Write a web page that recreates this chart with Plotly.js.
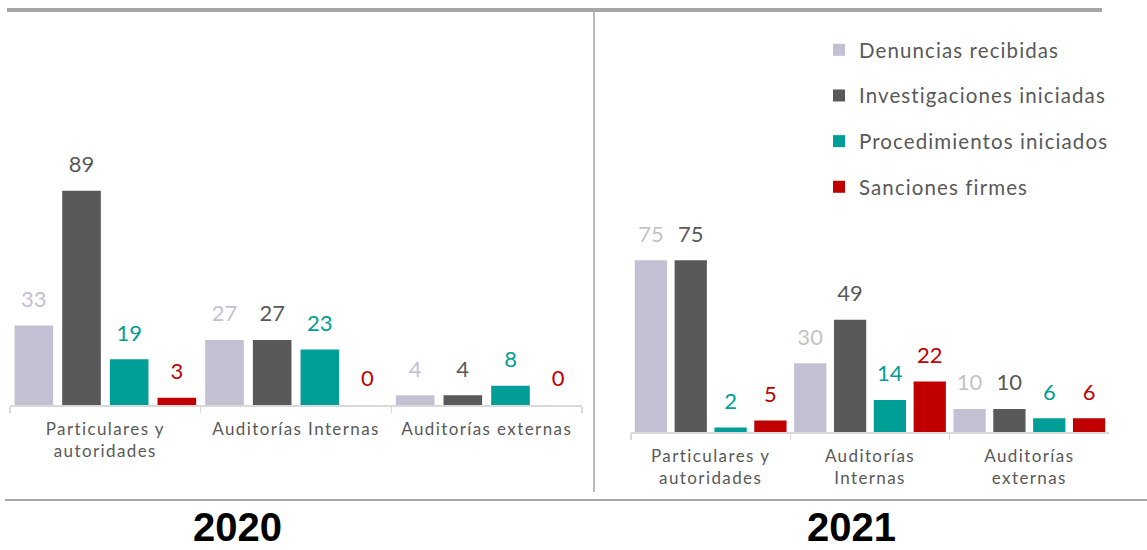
<!DOCTYPE html>
<html>
<head>
<meta charset="utf-8">
<script src="https://cdn.plot.ly/plotly-3.0.1.min.js"></script>
<style>
  html, body { margin: 0; padding: 0; background: #fff; }
  #chart { width: 1147px; height: 550px; }
  #chart .legendtext { letter-spacing: 1.1px; }
  #chart .legend .scrollbox { clip-path: none !important; }
  #chart .xaxislayer-above text { letter-spacing: 1.4px; }
</style>
</head>
<body>
<div id="chart"></div>
<script>
// ---- Data ----
const seriesNames = ['Denuncias recibidas', 'Investigaciones iniciadas', 'Procedimientos iniciados', 'Sanciones firmes'];
const categories2020 = ['Particulares y<br>autoridades', 'Auditorías Internas', 'Auditorías externas'];
const categories2021 = ['Particulares y<br>autoridades', 'Auditorías<br>Internas', 'Auditorías<br>externas'];

const denuncias2020 = [33, 27, 4];
const investigaciones2020 = [89, 27, 4];
const procedimientos2020 = [19, 23, 8];
const sanciones2020 = [3, 0, 0];

const denuncias2021 = [75, 30, 10];
const investigaciones2021 = [75, 49, 10];
const procedimientos2021 = [2, 14, 6];
const sanciones2021 = [5, 22, 6];

const yearLabels = ['2020', '2021'];

// ---- Styles ----
const barColors = ['#c4c0d4', '#595959', '#009e96', '#c00000'];
const labelColors2020 = ['#c4c0d4', '#595959', '#009e96', '#c00000'];
const labelColors2021 = ['#c3c3c3', '#595959', '#009e96', '#c00000'];
const FONT = 'Lato, "Open Sans", sans-serif';
const W = 1147, H = 550;

const tmpl = '<span style="font-size:22px">%{y}</span><br><span style="font-size:10px">\u00a0</span>';

function makeTraces(cats, seriesVals, labelColors, xa, ya, showLegend) {
  return seriesVals.map((vals, i) => ({
    type: 'bar',
    x: cats,
    y: vals,
    name: seriesNames[i],
    legendgroup: 'g' + i,
    showlegend: showLegend,
    xaxis: xa,
    yaxis: ya,
    marker: { color: barColors[i] },
    texttemplate: tmpl,
    textposition: 'outside',
    constraintext: 'none',
    cliponaxis: false,
    textfont: { family: FONT, size: 10.5, color: labelColors[i] },
    hoverinfo: 'x+y+name'
  }));
}

const traces = [
  ...makeTraces(categories2020, [denuncias2020, investigaciones2020, procedimientos2020, sanciones2020], labelColors2020, 'x', 'y', true),
  ...makeTraces(categories2021, [denuncias2021, investigaciones2021, procedimientos2021, sanciones2021], labelColors2021, 'x2', 'y2', false)
];

const xAxisCommon = {
  type: 'category',
  showline: true,
  linecolor: '#d9d9d9',
  linewidth: 1.5,
  ticks: 'outside',
  tickson: 'boundaries',
  ticklen: 6,
  tickwidth: 1.5,
  tickcolor: '#d9d9d9',
  showgrid: false,
  zeroline: false,
  tickfont: { family: FONT, size: 17, color: '#595959' },
  fixedrange: true
};

const layout = {
  width: W,
  height: H,
  margin: { l: 0, r: 0, t: 0, b: 0 },
  paper_bgcolor: '#ffffff',
  plot_bgcolor: 'rgba(0,0,0,0)',
  barmode: 'group',
  bargap: 0,
  bargroupgap: 0.19,
  showlegend: true,
  legend: {
    x: 819 / W, xanchor: 'left',
    y: 1 - 30 / H, yanchor: 'top',
    font: { family: FONT, size: 20.5, color: '#595959' },
    tracegroupgap: 16,
    bgcolor: 'rgba(0,0,0,0)'
  },
  xaxis: Object.assign({}, xAxisCommon, {
    domain: [10 / W, 582 / W], anchor: 'y', ticklabelstandoff: 8
  }),
  yaxis: {
    domain: [1 - 405 / H, 1 - 164.2 / H], range: [0, 100],
    visible: false, showgrid: false, zeroline: false, fixedrange: true
  },
  xaxis2: Object.assign({}, xAxisCommon, {
    domain: [631 / W, 1109 / W], anchor: 'y2', ticklabelstandoff: 8
  }),
  yaxis2: {
    domain: [1 - 432 / H, 1 - 203 / H], range: [0, 100],
    visible: false, showgrid: false, zeroline: false, fixedrange: true
  },
  shapes: [
    { type: 'line', xref: 'paper', yref: 'paper', x0: 7 / W, x1: 1102 / W, y0: 1 - 10 / H, y1: 1 - 10 / H,
      line: { color: '#a6a6a6', width: 4 } },
    { type: 'line', xref: 'paper', yref: 'paper', x0: 594 / W, x1: 594 / W, y0: 1 - 8 / H, y1: 1 - 492 / H,
      line: { color: '#a6a6a6', width: 1.5 } },
    { type: 'line', xref: 'paper', yref: 'paper', x0: 5 / W, x1: 1, y0: 1 - 500 / H, y1: 1 - 500 / H,
      line: { color: '#a6a6a6', width: 2 } }
  ],
  annotations: [
    { xref: 'paper', yref: 'paper', x: 237 / W, y: 0, text: yearLabels[0], showarrow: false,
      xanchor: 'center', yanchor: 'bottom', borderpad: 0,
      font: { family: '"Liberation Sans", Arial, sans-serif', size: 40, color: '#000000', weight: 'bold' } },
    { xref: 'paper', yref: 'paper', x: 851 / W, y: 0, text: yearLabels[1], showarrow: false,
      xanchor: 'center', yanchor: 'bottom', borderpad: 0,
      font: { family: '"Liberation Sans", Arial, sans-serif', size: 40, color: '#000000', weight: 'bold' } }
  ]
};

Plotly.newPlot('chart', traces, layout, { displayModeBar: false, staticPlot: true });
</script>
</body>
</html>
